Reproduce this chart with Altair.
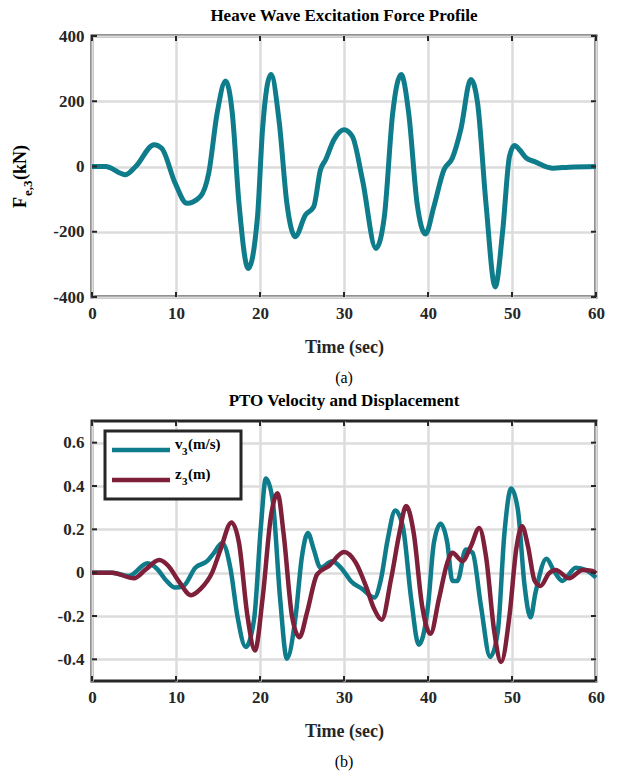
import altair as alt
import pandas as pd

# ---------------- data ----------------
t_force = [0, 1.6, 4.0, 5.2, 7.4, 8.3, 9.9, 11.3, 12.9, 13.9, 14.9, 15.9, 16.7, 17.5, 18.6, 19.7,
           20.3, 21.3, 22.3, 23.2, 24.2, 25.4, 26.4, 27.2, 27.8, 28.8, 30.0, 31.0, 32.2, 33.8,
           34.8, 35.8, 36.8, 37.7, 38.7, 39.7, 40.7, 41.9, 42.9, 43.9, 45.1, 45.9, 46.9, 48.0,
           48.9, 49.7, 50.3, 50.9, 51.7, 52.7, 54.8, 56.8, 60]
force = [0, 0, -25, 0, 67, 56, -51, -113, -92, -20, 164, 262, 164, -113, -313, -154,
         113, 282, 133, -113, -215, -149, -123, -10, 20, 82, 113, 92, -41, -251,
         -154, 164, 282, 164, -113, -207, -123, -10, 26, 113, 267, 195, -113, -369,
         -195, 31, 64, 51, 26, 15, -5, -2, 0]

t_vel = [0, 2.4, 4.4, 6.6, 7.8, 8.7, 9.9, 10.9, 12.3, 13.7, 14.5, 15.5, 16.5, 17.3, 18.3, 19.3,
         20.1, 20.7, 21.5, 22.4, 23.2, 24.2, 25.0, 25.7, 26.4, 27.2, 28.6, 29.8, 30.8, 32.2,
         33.6, 34.4, 35.2, 36.1, 37.0, 38.0, 38.9, 40.0, 40.7, 41.5, 42.3, 42.9, 43.5, 44.5,
         45.3, 46.3, 47.4, 48.3, 49.1, 49.9, 50.7, 51.5, 52.2, 52.8, 54.1, 55.0, 56.0, 57.6,
         58.8, 60]
vel = [0, 0, -0.015, 0.043, 0.015, -0.03, -0.069, -0.061, 0.023, 0.053, 0.09, 0.137, 0.015,
       -0.198, -0.343, -0.214, 0.21, 0.435, 0.336, -0.122, -0.397, -0.214, 0.076, 0.183, 0.107,
       0.023, 0.053, 0.015, -0.038, -0.076, -0.115, -0.03, 0.153, 0.287, 0.214, -0.122, -0.333,
       -0.153, 0.137, 0.226, 0.137, -0.038, -0.038, 0.107, 0.092, -0.153, -0.389, -0.275, 0.183,
       0.389, 0.29, -0.061, -0.206, -0.092, 0.064, 0.008, -0.038, 0.023, 0.012, -0.023]

t_disp = [0, 2.4, 5.0, 6.4, 8.0, 9.1, 10.3, 11.8, 12.9, 14.3, 15.3, 16.6, 17.5, 18.5, 19.4, 20.3,
          21.3, 22.1, 22.8, 23.8, 24.7, 25.6, 26.8, 28.2, 30.0, 31.4, 32.6, 33.6, 34.5, 35.6,
          36.6, 37.4, 38.3, 39.3, 40.3, 41.3, 42.3, 42.9, 44.1, 45.1, 46.1, 46.9, 47.9, 48.7,
          49.7, 50.5, 51.2, 51.9, 52.7, 53.4, 54.4, 55.2, 56.8, 58.4, 59.6, 60]
disp = [0, 0, -0.026, 0.015, 0.058, 0.031, -0.038, -0.104, -0.076, 0, 0.107, 0.232, 0.137,
        -0.198, -0.359, -0.122, 0.26, 0.366, 0.183, -0.198, -0.298, -0.183, -0.008, 0.031,
        0.095, 0.046, -0.061, -0.168, -0.217, -0.03, 0.183, 0.308, 0.183, -0.153, -0.282,
        -0.122, 0.046, 0.092, 0.053, 0.122, 0.206, 0.076, -0.275, -0.412, -0.198, 0.107,
        0.214, 0.122, -0.038, -0.061, -0.003, 0.012, -0.026, 0.012, 0.008, -0.003]

x_ticks = [0, 10, 20, 30, 40, 50, 60]
yf_ticks = [-400, -200, 0, 200, 400]
yv_ticks = [-0.4, -0.2, 0, 0.2, 0.4, 0.6]

title_top = "Heave Wave Excitation Force Profile"
title_bot = "PTO Velocity and Displacement"
x_title = "Time (sec)"
captions = ["(a)", "(b)"]
ytitle_parts = ["F", "e,3", "(kN)"]
legend_main = ["v", "z"]
legend_sub = ["3", "3"]
legend_unit = ["(m/s)", "(m)"]

# ---------------- style ----------------
TEAL = "#0e7c8a"
MAROON = "#7e2039"
DARK = "#262626"
FONT = "Liberation Serif"
W, H1, H2 = 504, 261, 260

df_f = pd.DataFrame({"t": t_force, "f": force})
df_v = pd.DataFrame({"t": t_vel, "v": vel})
df_d = pd.DataFrame({"t": t_disp, "d": disp})
df_xt = pd.DataFrame({"xt": x_ticks})
df_yf = pd.DataFrame({"yt": yf_ticks})
df_yv = pd.DataFrame({"yt": yv_ticks})

xscale = alt.Scale(domain=[0, 60], nice=False, zero=False)
minus_fix = "replace(datum.label, '\u2212', '-')"


def xaxis():
    return alt.Axis(values=x_ticks, title=x_title, ticks=False, domain=False,
                    labelPadding=8, titlePadding=17, labelFlush=False)


def tick_layers(df_y, yfield_scale, H):
    base_x = alt.Chart(df_xt)
    xt1 = base_x.mark_rule(color=DARK, strokeWidth=2).encode(
        x=alt.X("xt:Q", scale=xscale), y=alt.value(0), y2=alt.value(5))
    xt2 = base_x.mark_rule(color=DARK, strokeWidth=2).encode(
        x=alt.X("xt:Q", scale=xscale), y=alt.value(H), y2=alt.value(H - 5))
    base_y = alt.Chart(df_y)
    yt1 = base_y.mark_rule(color=DARK, strokeWidth=2).encode(
        y=alt.Y("yt:Q", scale=yfield_scale), x=alt.value(0), x2=alt.value(5))
    yt2 = base_y.mark_rule(color=DARK, strokeWidth=2).encode(
        y=alt.Y("yt:Q", scale=yfield_scale), x=alt.value(W), x2=alt.value(W - 5))
    return [xt1, xt2, yt1, yt2]


def text_at(s, x, y, size=16, weight="bold", angle=0, align="left"):
    return alt.Chart(pd.DataFrame({"s": [s]})).mark_text(
        font=FONT, fontSize=size, fontWeight=weight, angle=angle, align=align,
        baseline="middle", color="black").encode(
        x=alt.value(x), y=alt.value(y), text="s:N")


# ---------------- top chart ----------------
yf_scale = alt.Scale(domain=[-400, 400], nice=False)
line_f = alt.Chart(df_f).mark_line(color=TEAL, strokeWidth=5, interpolate="monotone").encode(
    x=alt.X("t:Q", scale=xscale, axis=xaxis()),
    y=alt.Y("f:Q", scale=yf_scale,
            axis=alt.Axis(values=yf_ticks, title=None, ticks=False, domain=False,
                          labelPadding=8, labelExpr=minus_fix)),
)
top = alt.layer(
    line_f,
    *tick_layers(df_yf, yf_scale, H1),
    text_at(ytitle_parts[0], -71, 172, size=18, angle=270),
    text_at(ytitle_parts[1], -64, 160, size=13, angle=270),
    text_at(ytitle_parts[2], -71, 144, size=18, angle=270),
    text_at(captions[0], W / 2, H1 + 81, size=16, weight="normal", align="center"),
).properties(width=W, height=H1, title=alt.TitleParams(title_top, offset=2))

# ---------------- bottom chart ----------------
yv_scale = alt.Scale(domain=[-0.5, 0.7], nice=False)
line_v = alt.Chart(df_v).mark_line(color=TEAL, strokeWidth=4.5, interpolate="monotone").encode(
    x=alt.X("t:Q", scale=xscale, axis=xaxis()),
    y=alt.Y("v:Q", scale=yv_scale,
            axis=alt.Axis(values=yv_ticks, title=None, ticks=False, domain=False,
                          labelPadding=8, format=".1~f", labelExpr=minus_fix)),
)
line_d = alt.Chart(df_d).mark_line(color=MAROON, strokeWidth=4.5, interpolate="monotone").encode(
    x=alt.X("t:Q", scale=xscale),
    y=alt.Y("d:Q", scale=yv_scale),
)

legend_box = alt.Chart(pd.DataFrame({"a": [0]})).mark_rect(
    fill="white", stroke=DARK, strokeWidth=3).encode(
    x=alt.value(13), x2=alt.value(149), y=alt.value(10), y2=alt.value(78))
leg_v = alt.Chart(pd.DataFrame({"a": [0]})).mark_rule(color=TEAL, strokeWidth=4.5).encode(
    x=alt.value(20), x2=alt.value(78), y=alt.value(29))
leg_d = alt.Chart(pd.DataFrame({"a": [0]})).mark_rule(color=MAROON, strokeWidth=4.5).encode(
    x=alt.value(20), x2=alt.value(78), y=alt.value(59))

bottom = alt.layer(
    line_v, line_d,
    *tick_layers(df_yv, yv_scale, H2),
    legend_box, leg_v, leg_d,
    text_at(legend_main[0], 83, 23, size=15),
    text_at(legend_sub[0], 90, 31, size=11),
    text_at(legend_unit[0], 96, 23, size=15),
    text_at(legend_main[1], 83, 53, size=15),
    text_at(legend_sub[1], 90, 61, size=11),
    text_at(legend_unit[1], 96, 53, size=15),
    text_at(captions[1], W / 2, H2 + 81, size=16, weight="normal", align="center"),
).properties(width=W, height=H2, title=alt.TitleParams(title_bot, offset=10))

chart = alt.vconcat(top, bottom, spacing=2).properties(
    padding={"left": 10, "top": 5, "right": 5, "bottom": 5}
).configure_view(
    stroke=DARK, strokeWidth=3
).configure_axis(
    labelFont=FONT, labelFontSize=17, labelFontWeight="bold", labelColor=DARK,
    titleFont=FONT, titleFontSize=18, titleFontWeight="bold", titleColor=DARK,
    gridColor="#dcdcdc", gridWidth=2.5, gridOpacity=1,
).configure_title(
    font=FONT, fontSize=17, fontWeight="bold", color="black", anchor="middle"
)

chart.save("out.html", embed_options={"renderer": "svg", "actions": False})
